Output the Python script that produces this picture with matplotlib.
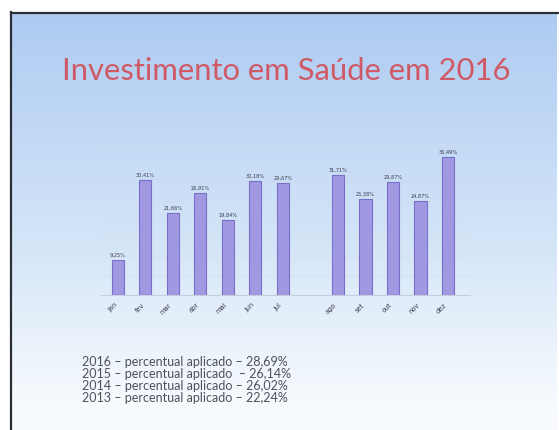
import numpy as np
import matplotlib
matplotlib.use("Agg")
import matplotlib.pyplot as plt

# Monthly health spending share, 2016 (% applied)
months_1 = ["jan", "fev", "mar", "abr", "mai", "jun", "jul"]
values_1 = [9.25, 30.41, 21.66, 26.91, 19.84, 30.18, 29.67]
months_2 = ["ago", "set", "out", "nov", "dez"]
values_2 = [31.71, 25.38, 29.87, 24.87, 36.49]

summary_lines = [
    "2016 – percentual aplicado – 28,69%",
    "2015 – percentual aplicado  – 26,14%",
    "2014 – percentual aplicado – 26,02%",
    "2013 – percentual aplicado – 22,24%",
]

W, H = 559, 430
fig = plt.figure(figsize=(W / 100, H / 100), dpi=100)
fig.patch.set_facecolor("white")

# slide background: blue fading to white, with a dark frame on top/left
bg = fig.add_axes([0, 0, 1, 1])
bg.set_xlim(0, W)
bg.set_ylim(H, 0)
bg.axis("off")
t = np.linspace(0, 1, 256)[:, None]
top = np.array([174, 203, 242]) / 255
mid = np.array([212, 229, 248]) / 255
bot = np.array([248, 251, 254]) / 255
grad = np.where(t < 0.55, top + (mid - top) * (t / 0.55),
                mid + (bot - mid) * np.clip((t - 0.55) / 0.4, 0, 1))
grad = np.repeat(grad[:, None, :], 2, axis=1).reshape(256, 2, 3)
bg.imshow(grad, extent=[11, W - 2, H, 13], aspect="auto", zorder=0)
bg.plot([11, W], [12.5, 12.5], color="#2a2e36", lw=1.6, zorder=2)
bg.plot([10.5, 10.5], [12, H], color="#2a2e36", lw=1.6, zorder=2)

bg.text(286, 71, "Investimento em Saúde em 2016", ha="center", va="center",
        fontsize=22.3, color="#cf5a66", family="Lato")

for i, line in enumerate(summary_lines):
    bg.text(82, 362 + i * 12, line, ha="left", va="center",
            fontsize=9.0, color="#50505a", family="Lato")

# bar chart
ax = fig.add_axes([100 / W, 1 - 295 / H, 370 / W, 151 / H])
ax.patch.set_alpha(0)
x1 = np.arange(len(months_1))
x2 = np.arange(len(months_2)) + len(months_1) + 1
xs = np.concatenate([x1, x2])
vals = values_1 + values_2
labels = months_1 + months_2

bars = ax.bar(xs, vals, width=0.44, color="#a099e2", edgecolor="#7a6ec8",
              linewidth=0.8, zorder=3)
for b, v in zip(bars, vals):
    ax.text(b.get_x() + b.get_width() / 2, v + 0.6,
            f"{v:.2f}%".replace(".", ","), ha="center", va="bottom",
            fontsize=3.6, color="#3a3a4a", zorder=4)

ax.set_xlim(-0.65, 12.8)
ax.set_ylim(0, 40)
ax.set_yticks(np.arange(0, 41, 5))
ax.yaxis.grid(True, color="#d2dae6", lw=0.4, zorder=0)
ax.tick_params(axis="y", left=False, labelleft=False)
ax.set_xticks(xs)
ax.set_xticklabels(labels, rotation=45, ha="right", fontsize=4.8,
                   color="#3c3c48")
ax.tick_params(axis="x", length=0, pad=5)
for s in ["top", "right", "left"]:
    ax.spines[s].set_visible(False)
ax.spines["bottom"].set_color("#c0c8d4")
ax.spines["bottom"].set_linewidth(0.6)

fig.savefig("out.png", dpi=100)
